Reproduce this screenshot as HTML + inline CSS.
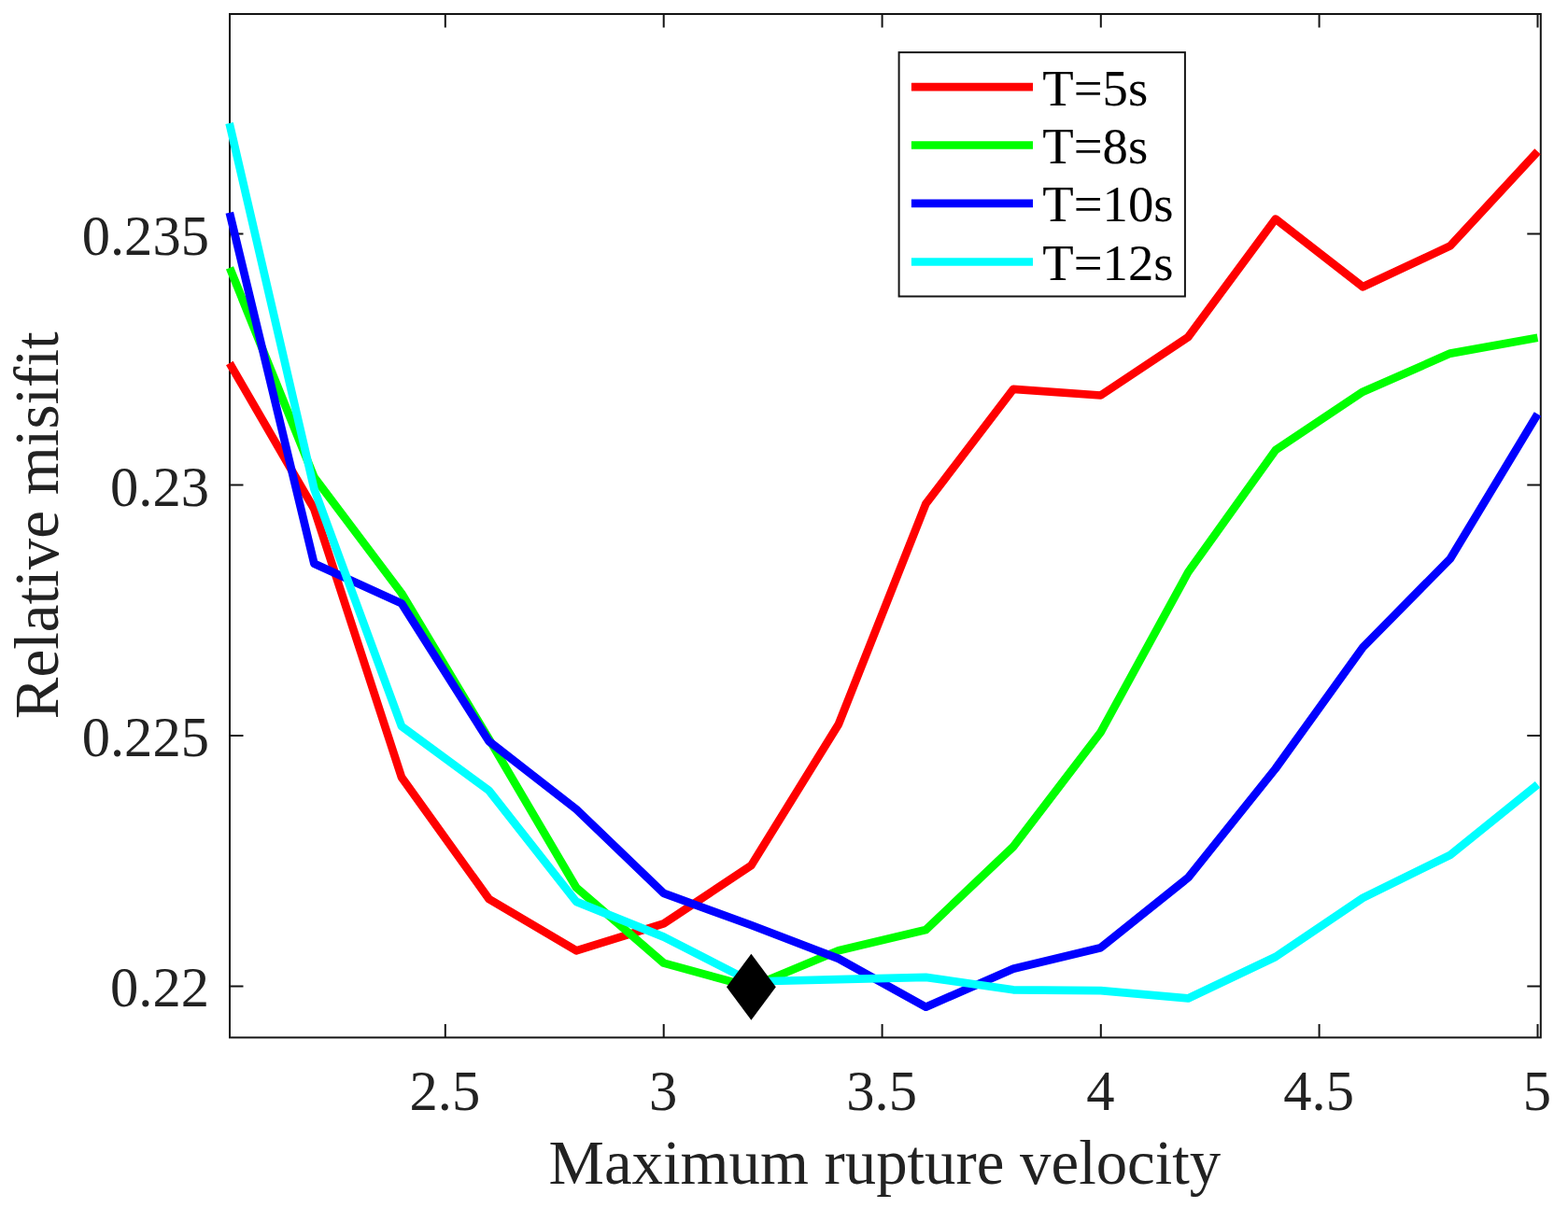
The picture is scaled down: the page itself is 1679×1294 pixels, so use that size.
<!DOCTYPE html>
<html lang="en"><head><meta charset="utf-8"><title>Relative misfit vs maximum rupture velocity</title>
<style>html,body{margin:0;padding:0;background:#fff;overflow:hidden}svg{display:block}text{font-family:"Liberation Serif","Times New Roman",serif;fill:#222}.tk{font-size:60.6px}.xl{font-size:66.8px}.yl{font-size:67px}.lg{font-size:54.7px;fill:#000}.ln{fill:none;stroke-width:8.7;stroke-linejoin:round;stroke-linecap:butt}.ax{fill:none;stroke:#141414;stroke-width:2}</style></head><body>
<svg width="1679" height="1294" viewBox="0 0 1679 1294">
<rect width="1679" height="1294" fill="#fff"/>
<rect class="ax" x="246.0" y="15.0" width="1403.8" height="1096.4"/>
<path class="ax" d="M476.8 1111.4 v-14.5 M476.8 15.0 v14.5 M710.7 1111.4 v-14.5 M710.7 15.0 v14.5 M944.6 1111.4 v-14.5 M944.6 15.0 v14.5 M1178.8 1111.4 v-14.5 M1178.8 15.0 v14.5 M1412.6 1111.4 v-14.5 M1412.6 15.0 v14.5 M1646.5 1111.4 v-14.5 M1646.5 15.0 v14.5 M246.0 250.6 h14.5 M1649.8 250.6 h-14.5 M246.0 519.6 h14.5 M1649.8 519.6 h-14.5 M246.0 787.9 h14.5 M1649.8 787.9 h-14.5 M246.0 1056.4 h14.5 M1649.8 1056.4 h-14.5"/>
<text class="tk" text-anchor="middle" transform="translate(476.3 1189.3) scale(1 1.025)">2.5</text>
<text class="tk" text-anchor="middle" transform="translate(710.2 1189.3) scale(1 1.025)">3</text>
<text class="tk" text-anchor="middle" transform="translate(944.1 1189.3) scale(1 1.025)">3.5</text>
<text class="tk" text-anchor="middle" transform="translate(1178.3 1189.3) scale(1 1.025)">4</text>
<text class="tk" text-anchor="middle" transform="translate(1412.1 1189.3) scale(1 1.025)">4.5</text>
<text class="tk" text-anchor="middle" transform="translate(1646.0 1189.3) scale(1 1.025)">5</text>
<text class="tk" text-anchor="end" transform="translate(224 272.6) scale(1 1.025)">0.235</text>
<text class="tk" text-anchor="end" transform="translate(224 541.6) scale(1 1.025)">0.23</text>
<text class="tk" text-anchor="end" transform="translate(224 809.9) scale(1 1.025)">0.225</text>
<text class="tk" text-anchor="end" transform="translate(224 1078.4) scale(1 1.025)">0.22</text>
<text class="lb xl" text-anchor="middle" transform="translate(947.4 1268) scale(1 1.01)">Maximum rupture velocity</text>
<text class="lb yl" text-anchor="middle" transform="translate(61.7 562.8) rotate(-90) scale(1 1.01)">Relative misifit</text>
<polyline class="ln" stroke="#f00" points="245.8,389.0 336.4,545.3 430.0,832.6 523.5,962.9 617.1,1018.3 710.7,989.4 804.3,927.2 897.9,775.9 991.4,539.7 1085.0,416.8 1178.6,423.5 1272.2,361.1 1365.8,234.5 1459.3,307.3 1552.9,263.4 1646.5,162.2"/>
<polyline class="ln" stroke="#0f0" points="246.0,286.9 336.4,511.2 430.0,635.5 523.5,791.5 617.1,950.7 710.7,1031.6 804.3,1057.3 897.9,1018.2 991.4,996.0 1085.0,907.0 1178.6,784.3 1272.2,613.0 1365.8,482.2 1459.3,419.7 1552.9,378.6 1646.5,361.7"/>
<polyline class="ln" stroke="#00f" points="245.8,227.7 336.4,603.8 430.0,646.4 523.5,794.0 617.1,866.9 710.7,956.8 804.3,991.0 897.9,1026.9 991.4,1078.7 1085.0,1037.8 1178.6,1015.2 1272.2,940.2 1365.8,823.4 1459.3,693.5 1552.9,598.5 1646.5,443.6"/>
<polyline class="ln" stroke="#0ff" points="245.6,131.9 336.4,523.8 430.0,778.0 523.5,846.8 617.1,965.9 710.7,1003.6 804.3,1051.5 897.9,1049.1 991.4,1046.9 1085.0,1060.3 1178.6,1061.1 1272.2,1069.5 1365.8,1025.0 1459.3,961.8 1552.9,915.8 1646.5,840.4"/>
<polygon fill="#000" points="804.4,1021.8 830.8,1057.3 804.4,1092.8 778.0,1057.3"/>
<rect x="962.6" y="56.1" width="306.3" height="261.4" fill="#fff" stroke="#141414" stroke-width="2"/>
<path class="ln" stroke="#f00" d="M975.9 93.2 H1106"/>
<text class="lg" transform="translate(1116.3 112.7) scale(1 1.02)">T=5s</text>
<path class="ln" stroke="#0f0" d="M975.9 155.5 H1106"/>
<text class="lg" transform="translate(1116.3 175.0) scale(1 1.02)">T=8s</text>
<path class="ln" stroke="#00f" d="M975.9 217.9 H1106"/>
<text class="lg" transform="translate(1116.3 237.4) scale(1 1.02)">T=10s</text>
<path class="ln" stroke="#0ff" d="M975.9 280.5 H1106"/>
<text class="lg" transform="translate(1116.3 300.0) scale(1 1.02)">T=12s</text>
</svg></body></html>
